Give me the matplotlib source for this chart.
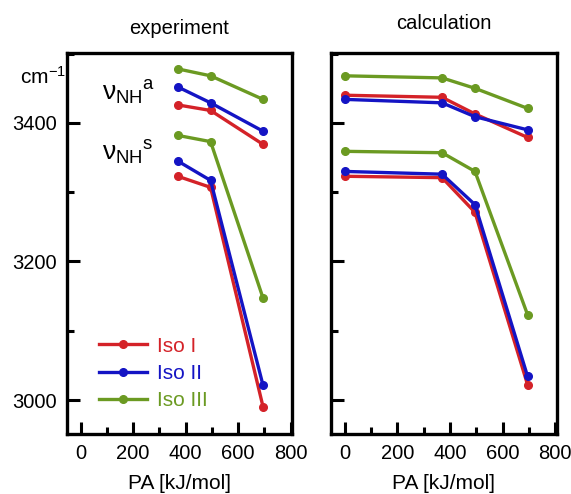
import numpy as np
import matplotlib.pyplot as plt
from matplotlib.ticker import MultipleLocator

plt.rcParams['font.family'] = ['Liberation Sans', 'DejaVu Sans']
plt.rcParams['mathtext.fontset'] = 'custom'
plt.rcParams['mathtext.rm'] = 'Liberation Sans'
plt.rcParams['mathtext.it'] = 'Liberation Sans'

# proton affinities (kJ/mol)
pa_exp = [370, 495, 695]
pa_calc = [0, 370, 495, 695]

# NH stretching frequencies, experiment (cm-1)
exp_asym = {
    'Iso I': [3426, 3418, 3369],
    'Iso II': [3452, 3429, 3388],
    'Iso III': [3478, 3468, 3434],
}
exp_sym = {
    'Iso I': [3323, 3307, 2990],
    'Iso II': [3345, 3317, 3021],
    'Iso III': [3382, 3373, 3147],
}

# NH stretching frequencies, calculation (cm-1)
calc_asym = {
    'Iso I': [3440, 3437, 3413, 3379],
    'Iso II': [3434, 3429, 3409, 3390],
    'Iso III': [3468, 3465, 3450, 3421],
}
calc_sym = {
    'Iso I': [3323, 3321, 3271, 3022],
    'Iso II': [3330, 3326, 3282, 3034],
    'Iso III': [3359, 3357, 3330, 3123],
}

isomers = ['Iso I', 'Iso II', 'Iso III']
colors = {'Iso I': '#d42228', 'Iso II': '#1414c4', 'Iso III': '#6b9a22'}

fig = plt.figure(figsize=(5.71, 4.94), dpi=100)
ax1 = fig.add_axes([0.1173, 0.1215, 0.394, 0.7713])
ax2 = fig.add_axes([0.5797, 0.1215, 0.395, 0.7713])

line_kw = dict(lw=2.4, marker='o', ms=5.5)

for iso in isomers:
    c = colors[iso]
    ax1.plot(pa_exp, exp_asym[iso], color=c, **line_kw)
    ax1.plot(pa_exp, exp_sym[iso], color=c, label=iso, **line_kw)
    ax2.plot(pa_calc, calc_asym[iso], color=c, **line_kw)
    ax2.plot(pa_calc, calc_sym[iso], color=c, **line_kw)

for ax in (ax1, ax2):
    ax.set_xlim(-52, 805)
    ax.set_ylim(2951, 3501)
    ax.xaxis.set_major_locator(MultipleLocator(200))
    ax.xaxis.set_minor_locator(MultipleLocator(100))
    ax.yaxis.set_major_locator(MultipleLocator(200))
    ax.yaxis.set_minor_locator(MultipleLocator(100))
    ax.tick_params(which='both', direction='in', width=2.2,
                   top=False, right=False, labelsize=14.5, pad=7)
    ax.tick_params(which='major', length=9)
    ax.tick_params(which='minor', length=5)
    for sp in ax.spines.values():
        sp.set_linewidth(2.4)
    ax.set_xlabel('PA [kJ/mol]', fontsize=15, labelpad=8)

ax2.tick_params(labelleft=False)

ax1.set_title('experiment', fontsize=14.5, pad=14)
ax2.set_title('calculation', fontsize=14.5, pad=17)

fig.text(0.035, 0.845, 'cm$^{-1}$', fontsize=15, va='center')
ax1.text(0.155, 0.895, r'$\nu_{\mathrm{NH}}{}^{\mathrm{a}}$', transform=ax1.transAxes,
         fontsize=19, va='center')
ax1.text(0.155, 0.738, r'$\nu_{\mathrm{NH}}{}^{\mathrm{s}}$', transform=ax1.transAxes,
         fontsize=19, va='center')

ax1.legend(loc='lower left', bbox_to_anchor=(0.06, 0.013), frameon=False,
           fontsize=15, handlelength=2.3, handletextpad=0.45,
           labelspacing=0.4, labelcolor='linecolor')

fig.savefig('out.png', dpi=100)
